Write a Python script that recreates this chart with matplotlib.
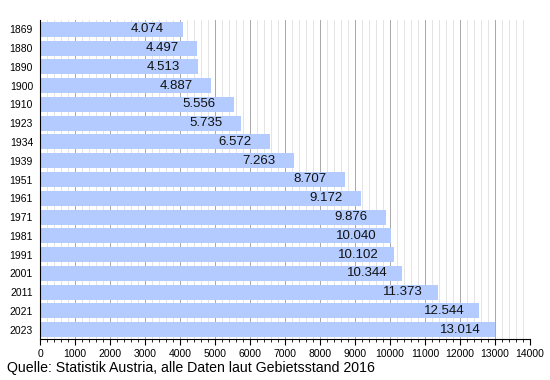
import matplotlib
matplotlib.use("Agg")
import matplotlib.pyplot as plt
from matplotlib.ticker import MultipleLocator

years = ["1869", "1880", "1890", "1900", "1910", "1923", "1934", "1939", "1951",
         "1961", "1971", "1981", "1991", "2001", "2011", "2021", "2023"]
population = [4074, 4497, 4513, 4887, 5556, 5735, 6572, 7263, 8707,
              9172, 9876, 10040, 10102, 10344, 11373, 12544, 13014]
labels = ["4.074", "4.497", "4.513", "4.887", "5.556", "5.735", "6.572", "7.263", "8.707",
          "9.172", "9.876", "10.040", "10.102", "10.344", "11.373", "12.544", "13.014"]

plt.rcParams["font.family"] = ["Liberation Sans", "DejaVu Sans"]

fig = plt.figure(figsize=(5.5, 3.8), dpi=100)
ax = fig.add_axes([40 / 550, 1 - 339 / 380, 490 / 550, 319 / 380])

pos = list(range(len(years)))
ax.barh(pos, population, height=0.8, color="#b3cbff", zorder=2)
# value labels sit inside the bar, a bit left of its end
for p, v, lab in zip(pos, population, labels):
    ax.text(v - 1000, p, lab, ha="center", va="center", fontsize=9.5,
            color="#111111", zorder=3)

ax.set_ylim(len(years) - 0.5, -0.5)
ax.set_yticks(pos)
ax.set_yticklabels(years, fontsize=7.5)
ax.tick_params(axis="y", length=0, pad=5)

ax.set_xlim(0, 14000)
ax.xaxis.set_major_locator(MultipleLocator(1000))
ax.xaxis.set_minor_locator(MultipleLocator(200))
ax.tick_params(axis="x", which="major", length=4, labelsize=7.5, pad=3)
ax.tick_params(axis="x", which="minor", length=2.5)
ax.grid(axis="x", which="major", color="#a8a8a8", linewidth=0.7, zorder=0)
ax.grid(axis="x", which="minor", color="#e4e4e4", linewidth=0.7, zorder=0)
ax.set_axisbelow(True)

for side in ["top", "right"]:
    ax.spines[side].set_visible(False)

fig.text(7 / 550, 1 - 372 / 380,
         "Quelle: Statistik Austria, alle Daten laut Gebietsstand 2016",
         fontsize=10.2, ha="left", va="baseline")

fig.savefig("out.png", dpi=100)
